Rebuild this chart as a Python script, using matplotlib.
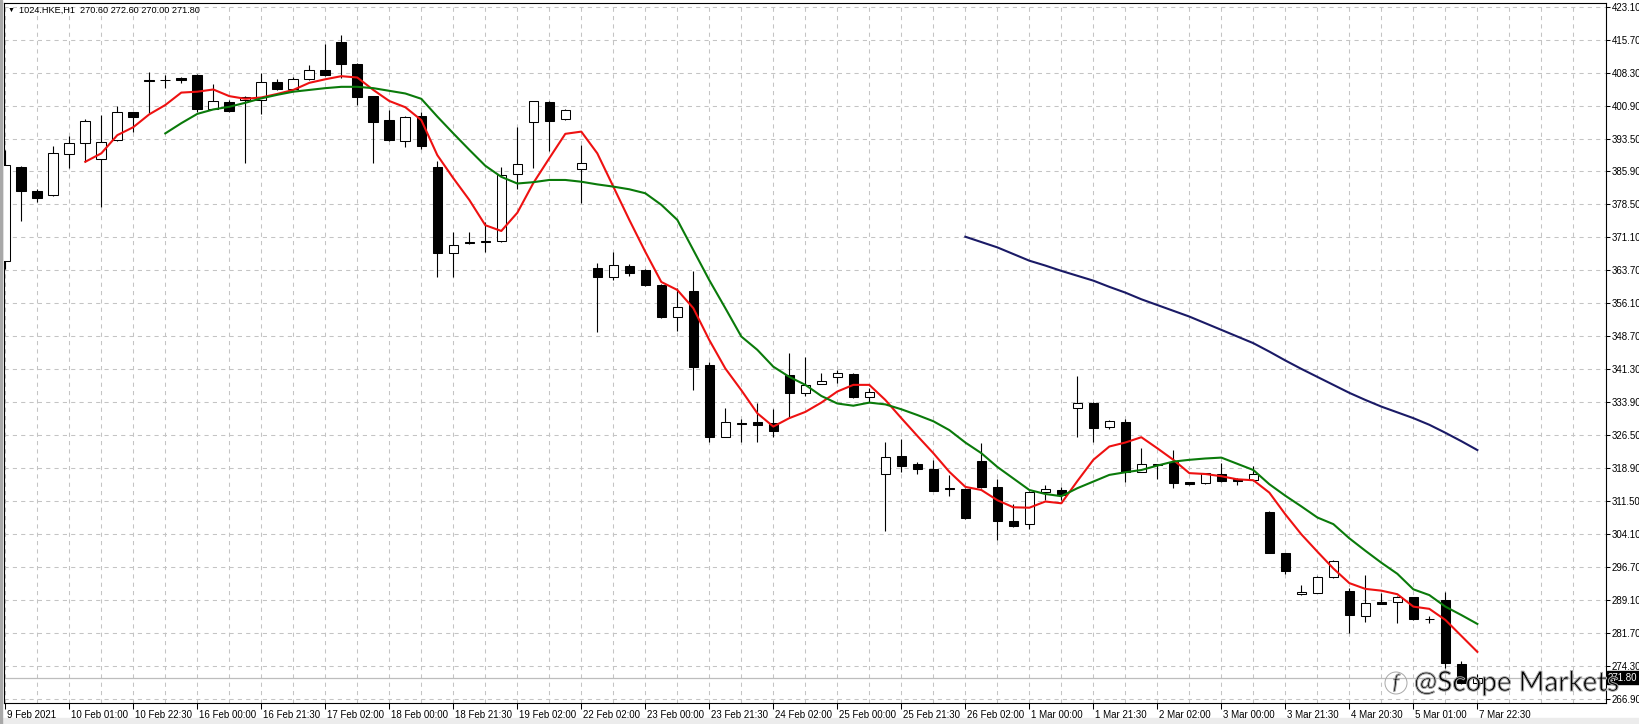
import numpy as np
import matplotlib
matplotlib.use('Agg')
import matplotlib.pyplot as plt
import matplotlib.transforms as mtransforms
import matplotlib.patheffects as pe
from matplotlib.patches import Rectangle, Ellipse

# 1024.HKE H1 candles
opens = [365.7, 386.9, 381.6, 380.5, 389.8, 392.3, 388.7, 392.9, 399.3, 406.6,
         406.5, 406.9, 407.7, 400.1, 401.6, 402.0, 402.0, 406.2, 404.6, 406.7,
         408.9, 415.1, 410.2, 402.9, 397.5, 392.7, 398.4, 387.0, 367.5, 370.0,
         370.1, 370.2, 385.3, 397.0, 401.6, 397.7, 386.4, 364.1, 362.2, 364.6,
         363.7, 360.3, 353.0, 359.0, 342.2, 326.1, 329.3, 329.5, 329.1, 340.0,
         335.9, 337.9, 339.5, 340.2, 335.0, 317.6, 321.8, 319.9, 318.8, 314.5,
         314.4, 320.6, 314.8, 307.1, 306.4, 313.7, 314.1, 332.5, 333.8, 328.2,
         329.4, 318.2, 319.8, 320.5, 315.9, 315.6, 317.7, 316.5, 316.3, 309.1,
         299.8, 290.6, 290.9, 294.4, 291.3, 285.6, 288.9, 288.8, 289.9, 284.9,
         289.4, 274.8, 270.6]
highs = [390.7, 387.2, 382.0, 391.7, 393.9, 397.7, 398.6, 400.7, 399.4, 408.3,
         407.7, 407.3, 407.8, 405.6, 402.1, 402.9, 408.2, 406.7, 407.2, 409.9,
         414.7, 416.7, 410.3, 403.0, 399.8, 398.5, 399.4, 388.3, 372.3, 372.3,
         374.6, 387.0, 396.0, 401.9, 401.8, 400.0, 391.8, 365.2, 367.8, 365.0,
         363.9, 360.5, 359.6, 363.5, 343.0, 332.5, 330.1, 333.6, 332.4, 344.9,
         344.1, 340.5, 341.2, 340.4, 337.0, 325.0, 325.7, 320.3, 320.9, 317.5,
         314.6, 324.8, 316.5, 310.9, 313.9, 315.2, 314.7, 339.8, 334.0, 329.9,
         330.2, 323.6, 320.0, 323.1, 316.0, 318.0, 320.1, 316.8, 319.6, 309.3,
         300.0, 292.7, 294.8, 298.3, 291.9, 294.9, 290.9, 290.2, 290.0, 285.7,
         291.2, 275.6, 272.6]
lows = [364.0, 374.8, 379.0, 380.3, 386.8, 388.1, 378.0, 392.7, 394.9, 399.0,
        404.7, 405.8, 399.4, 400.0, 399.4, 387.9, 398.9, 404.2, 404.4, 406.6,
        407.5, 406.9, 400.9, 387.9, 392.7, 391.5, 390.9, 362.2, 362.2, 369.5,
        367.8, 370.0, 381.9, 386.6, 390.6, 397.5, 378.7, 349.8, 361.4, 362.3,
        360.1, 352.9, 350.0, 336.6, 325.0, 326.0, 325.0, 325.0, 326.1, 330.3,
        335.3, 337.9, 338.2, 334.9, 334.0, 304.9, 318.2, 317.8, 313.9, 312.7,
        307.6, 314.5, 302.8, 305.8, 305.2, 311.8, 311.8, 326.1, 325.0, 327.9,
        315.8, 318.1, 316.5, 314.6, 315.3, 315.5, 316.0, 315.3, 316.2, 299.8,
        295.1, 290.5, 290.8, 294.3, 281.9, 284.3, 288.4, 284.0, 284.8, 284.0,
        273.9, 270.3, 270.0]
closes = [387.3, 381.6, 379.9, 390.1, 392.3, 397.2, 392.6, 399.3, 398.3, 406.4,
          406.6, 406.6, 400.1, 401.7, 399.5, 402.8, 406.2, 404.6, 406.7, 408.7,
          407.7, 410.1, 402.8, 397.1, 392.9, 398.3, 391.7, 367.6, 369.3, 369.7,
          370.2, 385.1, 387.5, 401.8, 397.4, 399.8, 387.8, 362.2, 364.8, 363.1,
          360.3, 353.2, 355.4, 341.9, 326.1, 329.4, 328.9, 328.8, 327.5, 335.9,
          337.7, 338.7, 340.4, 335.1, 336.1, 321.6, 319.6, 318.8, 313.9, 314.4,
          307.8, 314.8, 307.1, 306.0, 313.7, 314.3, 313.0, 333.6, 328.1, 329.6,
          318.2, 319.9, 319.9, 315.7, 315.4, 317.9, 316.2, 316.1, 317.7, 300.0,
          295.9, 291.1, 294.5, 298.0, 285.8, 288.7, 288.5, 290.0, 284.9, 285.0,
          275.0, 270.5, 271.8]

# moving averages drawn on the chart (first bar where each line starts)
red_start = 5
ma_red = [388.1, 390.0, 394.1, 395.9, 398.8, 400.9, 403.7, 403.9, 404.4, 402.9,
          402.3, 402.6, 403.4, 404.3, 405.9, 406.7, 407.4, 407.1, 404.3, 401.8,
          400.4, 397.5, 389.6, 384.4, 379.5, 373.8, 372.5, 376.6, 383.3, 388.9,
          394.4, 394.9, 390.0, 382.5, 375.0, 367.8, 361.0, 359.2, 355.1, 347.9,
          341.5, 336.6, 331.4, 328.4, 330.3, 331.7, 333.8, 336.3, 337.8, 337.8,
          334.4, 330.3, 326.3, 322.4, 318.2, 314.8, 314.1, 311.8, 310.2, 310.1,
          311.5, 311.1, 316.1, 320.9, 323.9, 324.8, 326.0, 323.5, 320.9, 317.9,
          317.7, 317.2, 316.5, 316.3, 313.5, 308.6, 304.1, 300.2, 296.4, 293.1,
          291.8, 291.4, 290.6, 287.8, 287.3, 284.8, 281.2, 277.6]
green_start = 10
ma_green = [394.5, 396.8, 398.9, 399.9, 400.5, 401.4, 402.4, 403.2, 403.9, 404.3,
            404.7, 405.0, 405.0, 404.7, 404.1, 403.5, 402.3, 398.3, 394.5, 390.8,
            387.2, 384.7, 383.2, 383.5, 384.0, 384.0, 383.6, 383.0, 382.5, 381.9,
            381.0, 378.4, 375.0, 368.2, 361.4, 355.1, 348.7, 345.7, 341.9, 339.6,
            337.8, 335.3, 333.6, 333.1, 333.8, 333.4, 332.3, 331.0, 329.6, 327.6,
            324.8, 322.4, 319.3, 316.7, 314.1, 313.2, 312.7, 314.5, 316.0, 317.5,
            318.1, 318.6, 319.6, 320.5, 320.9, 321.2, 321.4, 320.0, 318.6, 315.4,
            312.8, 310.4, 307.9, 306.4, 303.2, 300.4, 297.7, 295.2, 291.7, 290.4,
            287.8, 285.9, 283.9]
navy_start = 60
ma_navy = [371.2, 370.0, 368.8, 367.3, 365.8, 364.7, 363.5, 362.4, 361.3, 359.9,
           358.6, 357.1, 355.8, 354.5, 353.2, 351.7, 350.2, 348.7, 347.2, 345.3,
           343.3, 341.4, 339.6, 337.8, 336.0, 334.4, 332.9, 331.6, 330.3, 328.8,
           327.0, 325.1, 323.1]

time_labels = ['9 Feb 2021', '10 Feb 01:00', '10 Feb 22:30', '16 Feb 00:00',
               '16 Feb 21:30', '17 Feb 02:00', '18 Feb 00:00', '18 Feb 21:30',
               '19 Feb 02:00', '22 Feb 02:00', '23 Feb 00:00', '23 Feb 21:30',
               '24 Feb 02:00', '25 Feb 00:00', '25 Feb 21:30', '26 Feb 02:00',
               '1 Mar 00:00', '1 Mar 21:30', '2 Mar 02:00', '3 Mar 00:00',
               '3 Mar 21:30', '4 Mar 20:30', '5 Mar 01:00', '7 Mar 22:30']
price_labels = ['266.90', '274.30', '281.70', '289.10', '296.70', '304.10',
                '311.50', '318.90', '326.50', '333.90', '341.30', '348.70',
                '356.10', '363.70', '371.10', '378.50', '385.90', '393.50',
                '400.90', '408.30', '415.70', '423.10']

symbol = '1024.HKE,H1'
last_bar = '270.60 272.60 270.00 271.80'

plt.rcParams['font.family'] = ['Liberation Sans', 'DejaVu Sans']

W, H = 1639, 724
fig = plt.figure(figsize=(W / 100, H / 100), dpi=100)
fig.patch.set_facecolor('white')
ax = fig.add_axes([4 / W, 21 / H, 1602 / W, 700 / H])

n = len(opens)
idx = np.arange(n)
o = np.array(opens)
c = np.array(closes)

# grid
grid_kw = dict(color='#c4c4c4', lw=0.75, linestyle=(0, (4, 4)))
price_ticks = np.linspace(float(price_labels[0]), float(price_labels[-1]), len(price_labels))
ax.set_yticks(price_ticks)
ax.set_yticklabels(price_labels)
ax.set_xticks(np.arange(0, n, 4))
ax.set_xticklabels(time_labels)
ax.set_xticks(np.arange(0, 100, 2), minor=True)
ax.grid(True, which='major', **grid_kw)
ax.grid(True, which='minor', axis='x', **grid_kw)
ax.set_axisbelow(True)

# bid line
ax.axhline(closes[-1], color='#bdbdbd', lw=0.9, zorder=1)

# candles
ax.vlines(idx, lows, highs, color='black', lw=0.8, zorder=2)
body_lo = np.minimum(o, c)
body_h = np.abs(c - o)
body_col = np.where(c >= o, 'white', 'black')
ax.bar(idx, body_h, bottom=body_lo, width=0.6, color=body_col,
       edgecolor='black', lw=0.75, zorder=3)

# moving averages
ax.plot(np.arange(red_start, red_start + len(ma_red)), ma_red, color='#ee1111', lw=1.5, zorder=4)
ax.plot(np.arange(green_start, green_start + len(ma_green)), ma_green, color='#0a7a0a', lw=1.5, zorder=4)
ax.plot(np.arange(navy_start, navy_start + len(ma_navy)), ma_navy, color='#1a1a66', lw=1.5, zorder=4)

ax.set_xlim(-0.08, 100.04)
ax.set_ylim(266.07, 423.9)

for s in ax.spines.values():
    s.set_color('black')
    s.set_linewidth(0.8)

ax.yaxis.tick_right()
ax.tick_params(axis='y', direction='out', length=3, width=0.75, pad=1,
               labelsize=7, colors='black')
ax.tick_params(axis='x', which='major', direction='out', length=4, width=0.75,
               pad=1, labelsize=7)
ax.tick_params(axis='x', which='minor', length=0)
shift = mtransforms.ScaledTranslation(0.02, 0, fig.dpi_scale_trans)
for lab in ax.get_xticklabels():
    lab.set_horizontalalignment('left')
    lab.set_transform(lab.get_transform() + shift)

# current price tag on the axis
tag_tr = mtransforms.blended_transform_factory(ax.transAxes, ax.transData)
ax.text(1.0012, closes[-1], '%.2f' % closes[-1], transform=tag_tr, fontsize=7,
        color='white', va='center', ha='left', zorder=6, clip_on=False,
        bbox=dict(boxstyle='square,pad=0.12', fc='black', ec='black'))

# header
fig.text(8 / W, 1 - 10 / H, '\u25bc', fontsize=5, va='center', ha='left')
fig.text(19 / W, 1 - 10 / H, symbol + '  ' + last_bar, fontsize=6.6,
         va='center', ha='left')

# watermark (outline only)
wm_fx = [pe.Stroke(linewidth=0.7, foreground='#a8a8a8')]
fig.text(1414 / W, 1 - 683 / H, '@Scope Markets', fontsize=20, family='Lato',
         va='center', ha='left', zorder=10, path_effects=wm_fx)
fig.patches.append(Ellipse((1396 / W, 1 - 683 / H), 22 / W, 22 / H,
                           transform=fig.transFigure, fill=False,
                           ec='#a8a8a8', lw=0.7, zorder=10))
fig.text(1396 / W, 1 - 683 / H, 'f', fontsize=15, family='Lato', style='italic',
         va='center', ha='center', zorder=10, path_effects=wm_fx)

# window frame bits
fig.patches.append(Rectangle((0, 0), 1, 6 / H, transform=fig.transFigure,
                             color='#ececec', zorder=-1))
fig.patches.append(Rectangle((0, 0), 2 / W, 1, transform=fig.transFigure,
                             color='#a8a8a8', zorder=-1))

fig.savefig('out.png', dpi=100)
